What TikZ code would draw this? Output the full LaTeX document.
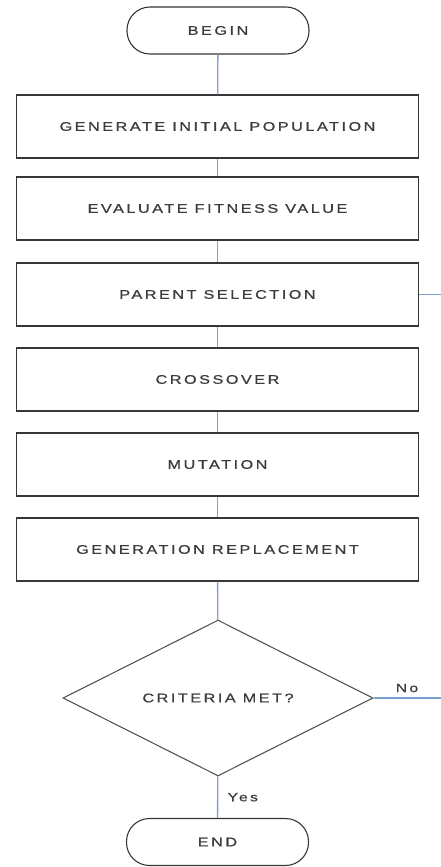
\documentclass[tikz,border=0pt]{standalone}
\usepackage{fontspec}
\setmainfont{Liberation Sans}
\newfontfamily\lblfont[FakeStretch=1.3, LetterSpace=20, FakeBold=0.8]{Liberation Sans}
\usetikzlibrary{shapes.geometric}
\definecolor{conn}{RGB}{125,160,210}
\definecolor{edgec}{RGB}{55,55,55}
\definecolor{diac}{RGB}{85,85,85}
\definecolor{txt}{RGB}{60,60,60}
\begin{document}
\begin{tikzpicture}[x=1pt,y=-1pt,
  lbl/.style={font=\lblfont\fontsize{12.5}{15}\selectfont, text=txt},
  procbox/.style={lbl, draw=edgec, line width=1.3pt, minimum width=402pt, minimum height=63pt, inner sep=0pt},
  termbox/.style={lbl, draw=edgec, line width=1.1pt, rounded corners=23pt, minimum width=182pt, minimum height=47pt, inner sep=0pt},
  decbox/.style={lbl, diamond, draw=diac, line width=1.1pt, minimum width=310pt, minimum height=156pt, inner sep=0pt, shape aspect=2},
  link/.style={draw=conn, line width=1.3pt},
  small/.style={font=\lblfont\fontsize{12}{14}\selectfont, text=txt}]
\useasboundingbox (0,0) rectangle (441,867);
\fill[white] (0,0) rectangle (441,867);
\node[termbox] (begin) at (218,30.5) {BEGIN};
\node[procbox] (init) at (217.5,126.5) {GENERATE INITIAL POPULATION};
\node[procbox] (eval) at (217.5,208.5) {EVALUATE FITNESS VALUE};
\node[procbox] (sel) at (217.5,294.5) {PARENT SELECTION};
\node[procbox] (cross) at (217.5,379.5) {CROSSOVER};
\node[procbox] (mut) at (217.5,464.5) {MUTATION};
\node[procbox] (repl) at (217.5,549.5) {GENERATION REPLACEMENT};
\node[decbox] (crit) at (218,698) {CRITERIA MET?};
\node[termbox] (end) at (217.5,842) {END};
\coordinate (loop) at (444,698);
\draw[link] (begin) -- (init);
\draw[link] (init) -- (eval);
\draw[link] (eval) -- (sel);
\draw[link] (sel) -- (cross);
\draw[link] (cross) -- (mut);
\draw[link] (mut) -- (repl);
\draw[link] (repl) -- (crit);
\draw[link] (crit) -- node[small, anchor=west, xshift=6pt] (yes) {Yes} (end);
\draw[link] (crit.east) -- (loop) |- (sel.east);
\node[small] (no) at (407,688) {No};
\end{tikzpicture}
\end{document}
